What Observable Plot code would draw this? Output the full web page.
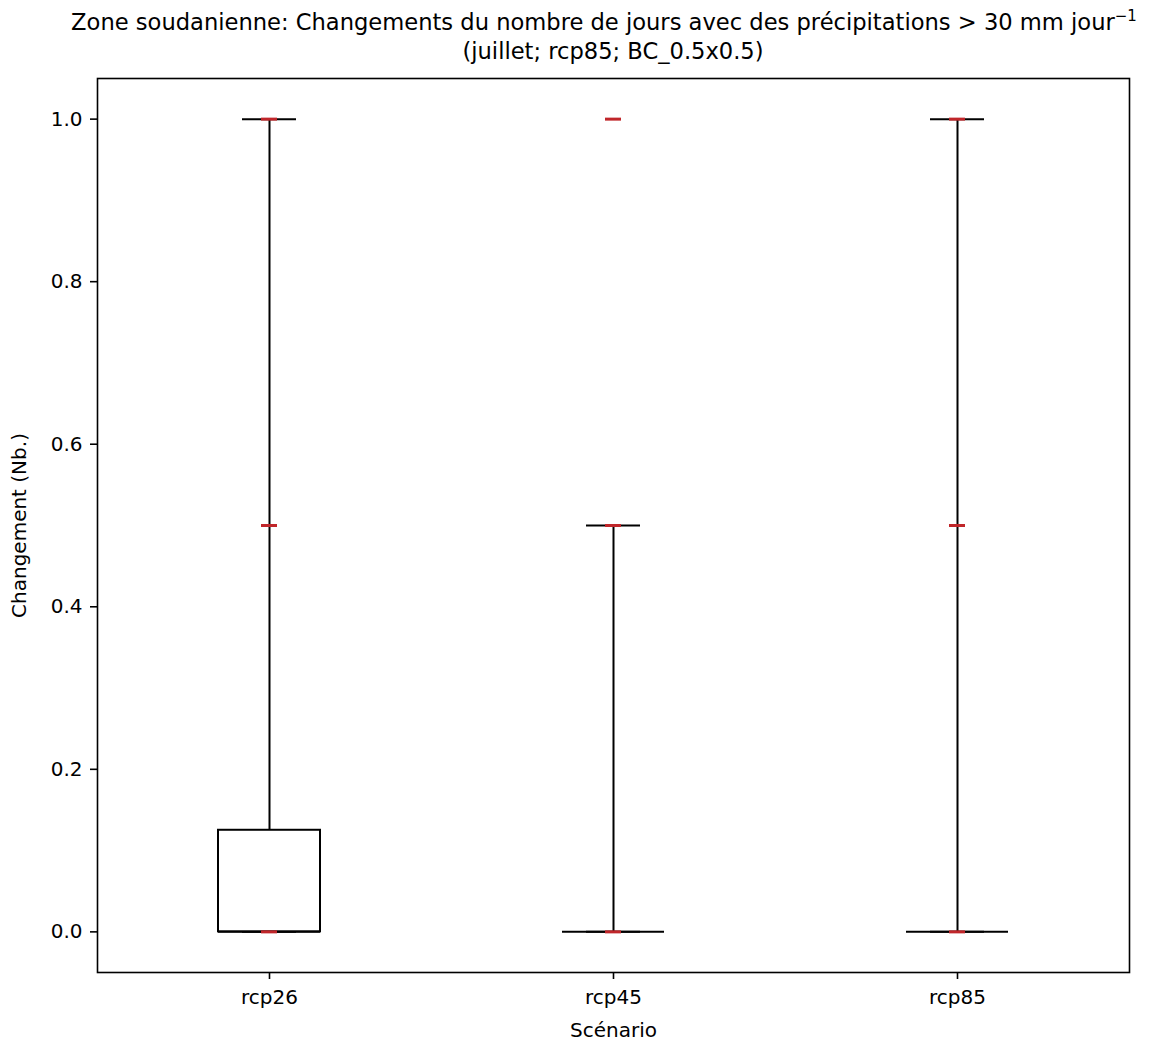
<!DOCTYPE html>
<html>
<head>
<meta charset="utf-8">
<script src="https://cdn.jsdelivr.net/npm/d3@7"></script>
<script src="https://cdn.jsdelivr.net/npm/@observablehq/plot@0.6"></script>
<style>
  body { margin: 0; background: #fff; font-family: "DejaVu Sans", sans-serif; }
  #title { height: 70px; box-sizing: border-box; padding-top: 8px; color: #000; }
  #title div { text-align: center; font-size: 22.6px; line-height: 29px; white-space: nowrap; }
  #t1 { padding-left: 43px; }
  #t2 { padding-left: 61px; }
  #title sup { font-size: 15px; line-height: 0; vertical-align: 9px; }
</style>
</head>
<body>
<div id="title">
  <div id="t1">Zone soudanienne: Changements du nombre de jours avec des précipitations &gt; 30 mm jour<sup>−1</sup></div>
  <div id="t2">(juillet; rcp85; BC_0.5x0.5)</div>
</div>
<div id="chart"></div>
<script>
const scenarios = ["rcp26", "rcp45", "rcp85"];
const q1 = [0, 0, 0];
const medians = [0, 0, 0];
const q3 = [0.125, 0, 0];
const whiskerLow = [0, 0, 0];
const whiskerHigh = [1.0, 0.5, 1.0];
const pointScenario = ["rcp26", "rcp26", "rcp26", "rcp45", "rcp45", "rcp45", "rcp85", "rcp85", "rcp85"];
const pointValue = [0, 0.5, 1.0, 0, 0.5, 1.0, 0, 0.5, 1.0];
const yTicks = [0, 0.2, 0.4, 0.6, 0.8, 1.0];

const boxes = scenarios.map((s, i) => ({
  s, q1: q1[i], med: medians[i], q3: q3[i], lo: whiskerLow[i], hi: whiskerHigh[i]
}));
const points = pointScenario.map((s, i) => ({ s, v: pointValue[i] }));

const W = 1165, H = 973;
const mL = 97, mR = 36;
const band = (W - mL - mR) / scenarios.length;
const boxInset = (band - 102) / 2;
const capInset = (band - 54) / 2;
const ptInset = (band - 16) / 2;
const red = "#c0262a";
const lw = 2;

const chart = Plot.plot({
  width: W, height: H,
  marginLeft: mL, marginRight: mR, marginTop: 8, marginBottom: 71,
  style: { fontFamily: "DejaVu Sans, sans-serif", fontSize: "20px", color: "#000", background: "#fff" },
  x: { type: "band", domain: scenarios, padding: 0 },
  y: { domain: [-0.05, 1.05] },
  marks: [
    Plot.ruleX(boxes, { x: "s", y1: "q3", y2: "hi", stroke: "black", strokeWidth: lw }),
    Plot.ruleX(boxes, { x: "s", y1: "lo", y2: "q1", stroke: "black", strokeWidth: lw }),
    Plot.tickY(boxes, { x: "s", y: "hi", stroke: "black", strokeWidth: lw, insetLeft: capInset, insetRight: capInset }),
    Plot.tickY(boxes, { x: "s", y: "lo", stroke: "black", strokeWidth: lw, insetLeft: capInset, insetRight: capInset }),
    Plot.rect(boxes, { x: "s", y1: "q1", y2: "q3", fill: "white", stroke: "black", strokeWidth: lw, insetLeft: boxInset, insetRight: boxInset }),
    Plot.tickY(boxes, { x: "s", y: "med", stroke: "black", strokeWidth: lw, insetLeft: boxInset, insetRight: boxInset }),
    Plot.tickY(points, { x: "s", y: "v", stroke: red, strokeWidth: 3, insetLeft: ptInset, insetRight: ptInset }),
    Plot.frame({ stroke: "black", strokeWidth: 1.6 }),
    Plot.axisY({ ticks: yTicks, tickFormat: d3.format(".1f"), tickSize: 7, tickPadding: 8, fontSize: 20, strokeWidth: 1.6,
      label: "Changement (Nb.)", labelAnchor: "center", labelArrow: "none", labelOffset: 86 }),
    Plot.axisX({ tickSize: 7, tickPadding: 10, fontSize: 20, strokeWidth: 1.6,
      label: "Scénario", labelAnchor: "center", labelArrow: "none", labelOffset: 64 })
  ]
});
document.getElementById("chart").appendChild(chart);
</script>
</body>
</html>
